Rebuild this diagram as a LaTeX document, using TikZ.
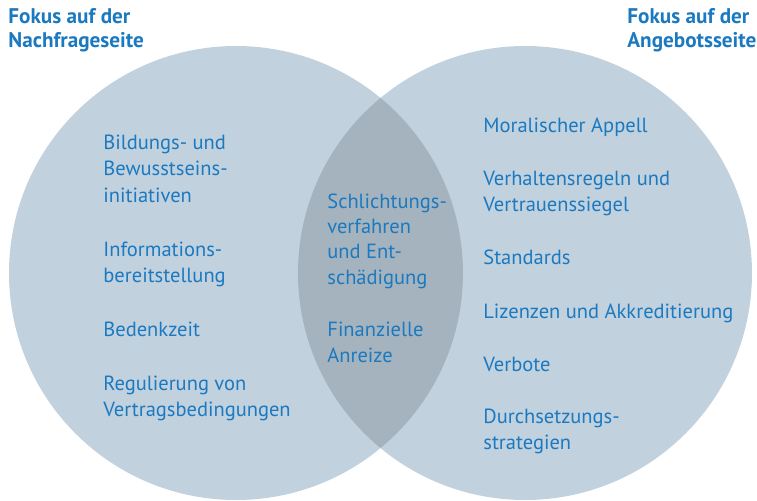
\documentclass[tikz,border=0pt]{standalone}
\usepackage{fontspec}
\setmainfont{PT Sans}
\usetikzlibrary{positioning}
\definecolor{CircleBlue}{HTML}{C1D1DE}
\definecolor{LensGray}{HTML}{A5B3BE}
\definecolor{TextBlue}{HTML}{1B79C0}

\begin{document}
\begin{tikzpicture}[x=0.5pt,y=0.5pt,
    item/.style={anchor=north west,inner sep=0pt,align=left,text=TextBlue,font=\fontsize{10.25}{13.25}\selectfont},
    tight/.style={font=\fontsize{10.25}{12.7}\selectfont},
    heading/.style={anchor=north west,inner sep=0pt,align=left,text=TextBlue,font=\bfseries\fontsize{10.6}{12}\selectfont}]
       \useasboundingbox (0,0) rectangle (757,500);
       \fill[CircleBlue] (236,227) coordinate (L) circle (227);
       \fill[CircleBlue] (525,227) coordinate (R) circle (227);
       \begin{scope}
         \clip (L) circle (227);
         \fill[LensGray] (R) circle (227);
       \end{scope}
       \node[heading] (demand) at (8,494) {\strut Fokus auf der\\Nachfrageseite};
       \node[heading] (supply) at (627,494) {\strut Fokus auf der\\Angebotsseite};
       \node[item] (bildung) at (103,369.5) {\strut Bildungs- und\\Bewusstseins-\\initiativen};
       \node[item] (info) at (103,262.5) {\strut Informations-\\bereitstellung};
       \node[item] (bedenk) at (103,182.5) {\strut Bedenkzeit};
       \node[item] (regul) at (103,128.5) {\strut Regulierung von\\Vertragsbedingungen};
       \node[item,tight] (schlicht) at (327,310) {\strut Schlichtungs-\\verfahren\\und Ent-\\schädigung};
       \node[item,tight] (finanz) at (327,181.5) {\strut Finanzielle\\Anreize};
       \node[item] (moral) at (483,386.5) {\strut Moralischer Appell};
       \node[item] (verhalten) at (483,333.5) {\strut Verhaltensregeln und\\Vertrauenssiegel};
       \node[item] (standards) at (483,254.5) {\strut Standards};
       \node[item] (lizenz) at (483,200.5) {\strut Lizenzen und Akkreditierung};
       \node[item] (verbote) at (483,147.5) {\strut Verbote};
       \node[item] (durch) at (483,95.5) {\strut Durchsetzungs-\\strategien};
     \end{tikzpicture}
\end{document}
